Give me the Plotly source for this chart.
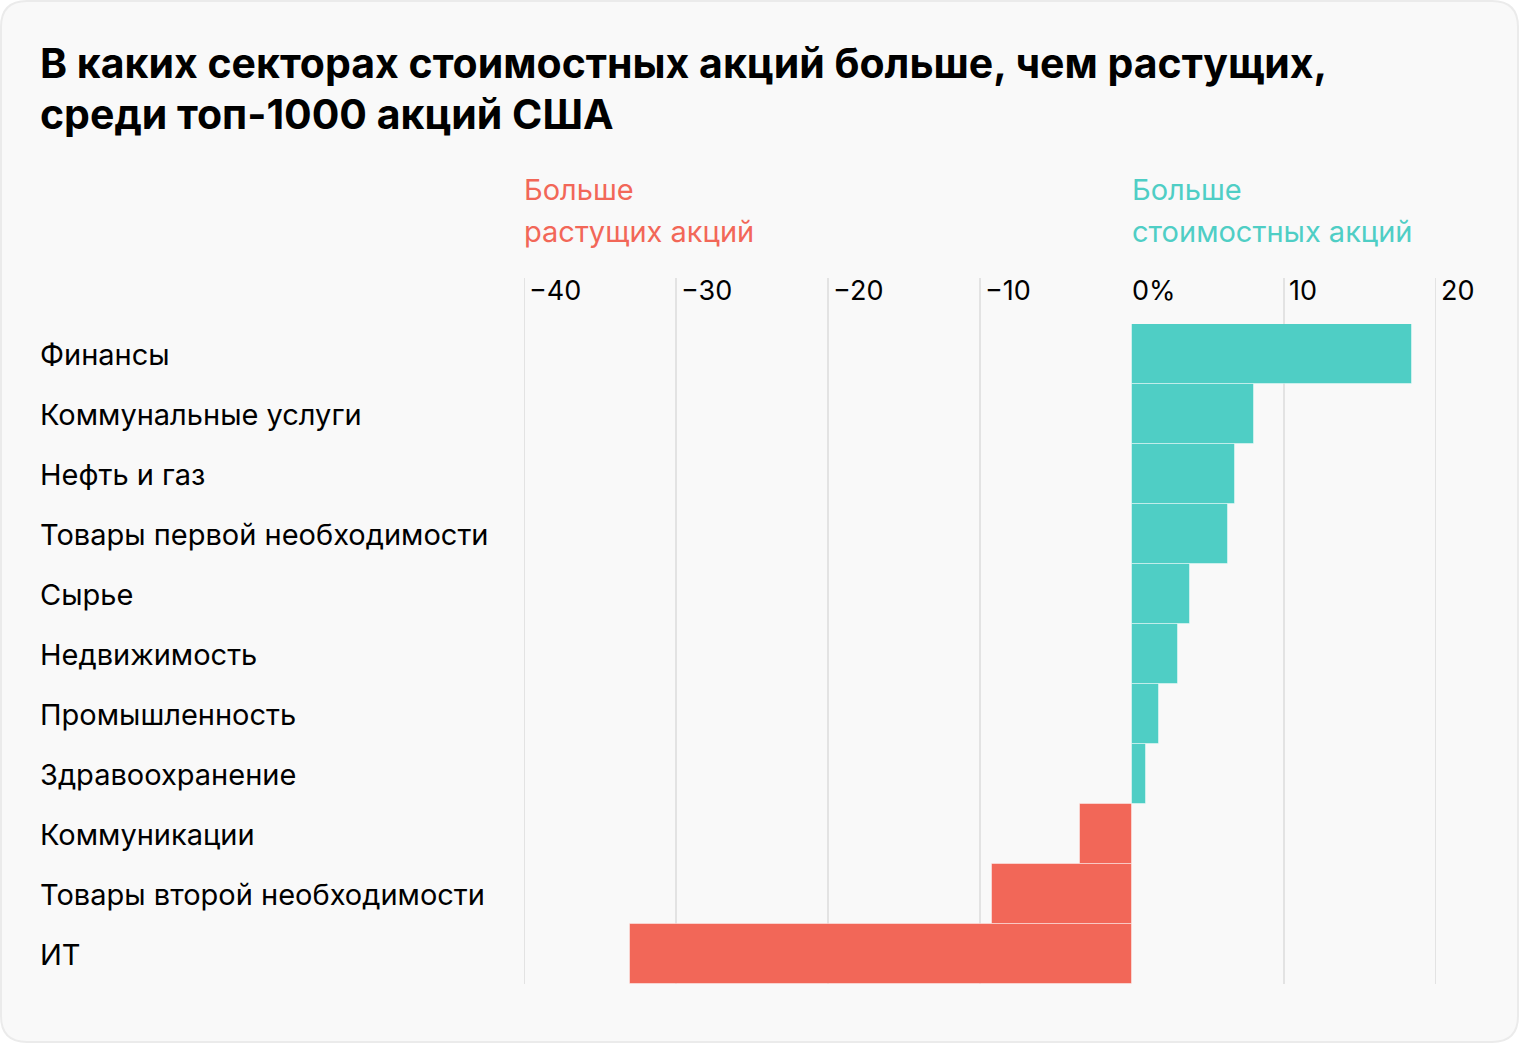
import plotly.graph_objects as go

# ---- data ----
categories = [
    "Финансы", "Коммунальные услуги", "Нефть и газ", "Товары первой необходимости",
    "Сырье", "Недвижимость", "Промышленность", "Здравоохранение",
    "Коммуникации", "Товары второй необходимости", "ИТ",
]
values = [18.4, 8.0, 6.8, 6.3, 3.8, 3.0, 1.8, 0.9, -3.4, -9.2, -33.0]
tick_values = [-40, -30, -20, -10, 0, 10, 20]
tick_labels = ["−40", "−30", "−20", "−10", "0%", "10", "20"]

title_lines = ["В каких секторах стоимостных акций больше, чем растущих,",
               "среди топ-1000 акций США"]
neg_label = ["Больше", "растущих акций"]
pos_label = ["Больше", "стоимостных акций"]

# ---- style ----
W, H = 1520, 1044
L, R, T, B = 524, 84, 324, 60
PW, PH = W - L - R, H - T - B
TEAL = "#4FCEC5"
RED = "#F26758"
GRID = "#E3E3E3"
FONT = "Inter"


def px_x(px):
    return (px - L) / PW


def px_y(py):
    return (H - B - py) / PH


colors = [TEAL if v >= 0 else RED for v in values]

fig = go.Figure(go.Bar(
    x=values, y=categories, orientation="h",
    marker=dict(color=colors, line=dict(color="rgba(255,255,255,0.45)", width=1)),
    hoverinfo="skip",
))

shapes = []
# card background
r = 26
x0, x1 = px_x(1), px_x(W - 2)
y0, y1 = px_y(1), px_y(H - 2)
rx, ry = r / PW, r / PH
path = (f"M {x0+rx},{y0} L {x1-rx},{y0} Q {x1},{y0} {x1},{y0-ry} "
        f"L {x1},{y1+ry} Q {x1},{y1} {x1-rx},{y1} L {x0+rx},{y1} "
        f"Q {x0},{y1} {x0},{y1+ry} L {x0},{y0-ry} Q {x0},{y0} {x0+rx},{y0} Z")
shapes.append(dict(type="path", path=path, xref="paper", yref="paper",
                   fillcolor="#F9F9F9", line=dict(color="#EBEBEB", width=2), layer="below"))
# grid lines extending above plot
for tv in tick_values:
    if tv == 0:
        continue
    shapes.append(dict(type="line", xref="x", yref="paper", x0=tv, x1=tv,
                       y0=0, y1=px_y(278), line=dict(color=GRID, width=2), layer="below"))

annotations = []
# title
for i, line in enumerate(title_lines):
    annotations.append(dict(text=f"<b>{line}</b>", xref="paper", yref="paper",
                            x=px_x(38), y=px_y(63 + i * 51), xanchor="left", yanchor="middle",
                            showarrow=False, font=dict(family=FONT, size=41, color="#000")))
# tick labels
for tv, tl in zip(tick_values, tick_labels):
    annotations.append(dict(text=tl, xref="x", yref="paper", x=tv, y=px_y(290),
                            xanchor="left", yanchor="middle", xshift=(-2 if tv == 0 else 3),
                            showarrow=False, font=dict(family=FONT, size=27, color="#000")))
# direction labels
for lines, xv, col in ((neg_label, -40, RED), (pos_label, 0, TEAL)):
    for i, line in enumerate(lines):
        annotations.append(dict(text=line, xref="x", yref="paper", x=xv, y=px_y(190 + i * 41),
                                xanchor="left", yanchor="middle", align="left", showarrow=False,
                                xshift=-2, font=dict(family=FONT, size=29, color=col)))
# category labels
for c in categories:
    annotations.append(dict(text=c, xref="paper", yref="y", x=px_x(38), y=c,
                            xanchor="left", yanchor="middle", showarrow=False,
                            font=dict(family=FONT, size=29, color="#000")))

fig.update_layout(
    width=W, height=H,
    margin=dict(l=L, r=R, t=T, b=B),
    paper_bgcolor="#FFFFFF", plot_bgcolor="rgba(0,0,0,0)",
    bargap=0, showlegend=False,
    xaxis=dict(range=[-40, 20], showgrid=False, zeroline=False, showticklabels=False,
               fixedrange=True),
    yaxis=dict(categoryorder="array", categoryarray=categories, autorange="reversed",
               showgrid=False, zeroline=False, showticklabels=False, fixedrange=True),
    shapes=shapes, annotations=annotations,
)

fig.write_html("out.html", config={"displayModeBar": False},
               post_script="document.body.style.margin='0';")
